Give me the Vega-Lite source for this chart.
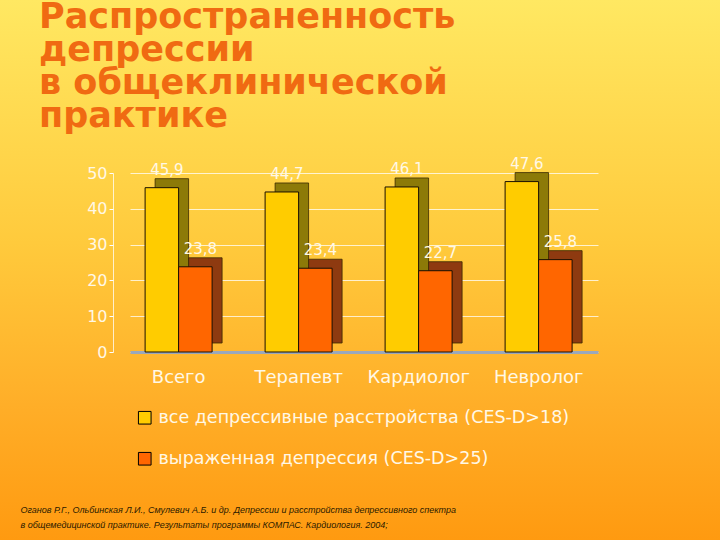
{
  "$schema": "https://vega.github.io/schema/vega-lite/v6.json",
  "width": 720,
  "height": 540,
  "autosize": "none",
  "padding": 0,
  "background": "#FFB030",
  "view": {
    "stroke": null,
    "fill": {
      "gradient": "linear",
      "x1": 0, "y1": 0, "x2": 0, "y2": 1,
      "stops": [
        {"offset": 0, "color": "#FFE862"},
        {"offset": 0.45, "color": "#FFCA3C"},
        {"offset": 0.75, "color": "#FFAE28"},
        {"offset": 1, "color": "#FF9A10"}
      ]
    }
  },
  "title": {
    "text": ["Распространенность", "депрессии", "в общеклинической", "практике"],
    "anchor": "start",
    "frame": "group",
    "baseline": "top",
    "offset": -134,
    "dx": 39,
    "font": "DejaVu Sans",
    "fontSize": 35,
    "fontWeight": "bold",
    "color": "#F06A12",
    "lineHeight": 33
  },
  "data": {
    "values": [
      {"category": "Всего", "series": "все депрессивные расстройства (CES-D>18)", "value": 45.9, "label": "45,9"},
      {"category": "Всего", "series": "выраженная депрессия (CES-D>25)", "value": 23.8, "label": "23,8"},
      {"category": "Терапевт", "series": "все депрессивные расстройства (CES-D>18)", "value": 44.7, "label": "44,7"},
      {"category": "Терапевт", "series": "выраженная депрессия (CES-D>25)", "value": 23.4, "label": "23,4"},
      {"category": "Кардиолог", "series": "все депрессивные расстройства (CES-D>18)", "value": 46.1, "label": "46,1"},
      {"category": "Кардиолог", "series": "выраженная депрессия (CES-D>25)", "value": 22.7, "label": "22,7"},
      {"category": "Невролог", "series": "все депрессивные расстройства (CES-D>18)", "value": 47.6, "label": "47,6"},
      {"category": "Невролог", "series": "выраженная депрессия (CES-D>25)", "value": 25.8, "label": "25,8"}
    ]
  },
  "encoding": {
    "x": {
      "field": "category",
      "type": "nominal",
      "sort": ["Всего", "Терапевт", "Кардиолог", "Невролог"],
      "scale": {"range": [130, 598], "paddingInner": 0.44, "paddingOuter": 0.17, "align": 0.37},
      "axis": {
        "offset": -188,
        "labelAngle": 0,
        "labelPadding": 16,
        "labelFont": "DejaVu Sans",
        "labelFontSize": 18,
        "labelColor": "#FFF8E6",
        "ticks": false,
        "domain": true,
        "domainColor": "#9AA8BC",
        "domainWidth": 3,
        "title": ["Оганов Р.Г., Ольбинская Л.И., Смулевич А.Б. и др. Депрессии и расстройства депрессивного спектра", "в общемедицинской практике. Результаты программы КОМПАС. Кардиология. 2004;"],
        "titleAnchor": "start",
        "titleAlign": "left",
        "titleBaseline": "top",
        "titleX": 20,
        "titleY": 153,
        "titleFont": "Liberation Sans",
        "titleFontSize": 9,
        "titleFontStyle": "italic",
        "titleFontWeight": "normal",
        "titleColor": "#2A1A00",
        "titleLineHeight": 15
      }
    },
    "y": {
      "field": "value",
      "type": "quantitative",
      "scale": {"domain": [0, 50], "range": [352, 173], "nice": false, "zero": true},
      "axis": {
        "values": [0, 10, 20, 30, 40, 50],
        "offset": -113,
        "title": null,
        "grid": true,
        "gridColor": "#FFFFFF",
        "gridOpacity": 0.75,
        "gridWidth": 1,
        "domain": true,
        "domainColor": "#FFFFFF",
        "domainOpacity": 0.75,
        "ticks": true,
        "tickColor": "#FFFFFF",
        "tickSize": 4,
        "labelPadding": 2,
        "labelFont": "DejaVu Sans",
        "labelFontSize": 16,
        "labelColor": "#FFF8E6"
      }
    }
  },
  "layer": [
    {
      "mark": {"type": "bar", "yOffset": -9, "stroke": "#3A2A00", "strokeWidth": 0.8},
      "encoding": {
        "xOffset": {
          "field": "series",
          "type": "nominal",
          "scale": {"domain": ["все депрессивные расстройства (CES-D>18)", "выраженная депрессия (CES-D>25)"], "range": [10, 77]}
        },
        "color": {
          "field": "series",
          "type": "nominal",
          "scale": {"domain": ["все депрессивные расстройства (CES-D>18)", "выраженная депрессия (CES-D>25)"], "range": ["#8C7A08", "#8E3A10"]},
          "legend": null
        }
      }
    },
    {
      "mark": {"type": "bar", "stroke": "#1A1000", "strokeWidth": 1},
      "encoding": {
        "xOffset": {
          "field": "series",
          "type": "nominal",
          "scale": {"domain": ["все депрессивные расстройства (CES-D>18)", "выраженная депрессия (CES-D>25)"], "range": [0, 67]}
        },
        "fill": {
          "field": "series",
          "type": "nominal",
          "scale": {"domain": ["все депрессивные расстройства (CES-D>18)", "выраженная депрессия (CES-D>25)"], "range": ["#FFCC00", "#FF6600"]},
          "legend": {
            "orient": "none",
            "legendX": 136,
            "legendY": 409,
            "direction": "vertical",
            "title": null,
            "symbolType": "square",
            "symbolSize": 160,
            "symbolStrokeColor": "#000000",
            "symbolStrokeWidth": 1,
            "labelFont": "DejaVu Sans",
            "labelFontSize": 17.5,
            "labelColor": "#FFF8E6",
            "labelLimit": 600,
            "rowPadding": 22,
            "labelOffset": 5
          }
        }
      }
    },
    {
      "mark": {"type": "text", "baseline": "middle", "dy": -18, "dx": 5, "font": "DejaVu Sans", "fontSize": 15, "color": "#FFF8E6"},
      "encoding": {
        "xOffset": {
          "field": "series",
          "type": "nominal",
          "scale": {"domain": ["все депрессивные расстройства (CES-D>18)", "выраженная депрессия (CES-D>25)"], "range": [0, 67]}
        },
        "text": {"field": "label"}
      }
    }
  ],
  "resolve": {"scale": {"color": "independent", "xOffset": "independent"}}
}
